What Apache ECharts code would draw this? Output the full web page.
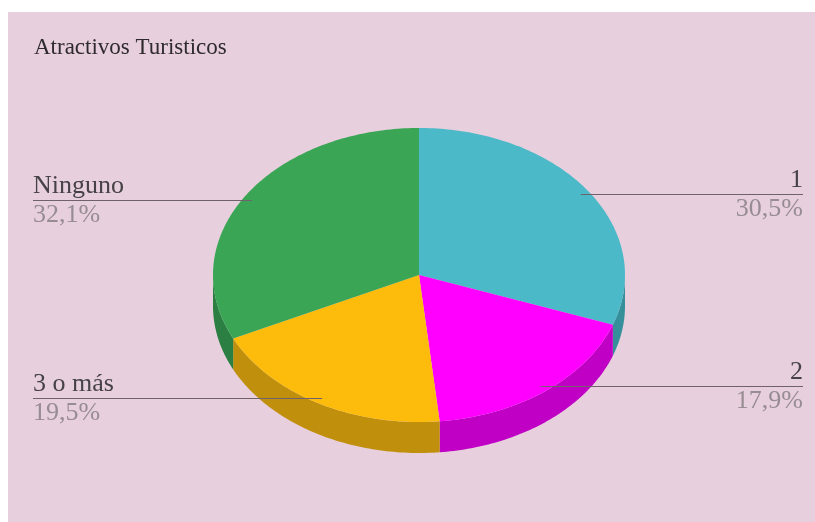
<!DOCTYPE html>
<html><head><meta charset="utf-8">
<script src="https://cdn.jsdelivr.net/npm/echarts@6/dist/echarts.min.js"></script>
<style>html,body{margin:0;padding:0;background:#fff}#c{width:815px;height:522px}</style>
</head><body><div id="c"></div>
<script>
const categories = ['1', '2', '3 o más', 'Ninguno'];
const values = [30.5, 17.9, 19.5, 32.1];
const chartTitle = 'Atractivos Turisticos';
const topColors = ['#4bb9c8', '#ff00ff', '#fdbc0c', '#3aa655'];
const sideColors = ['#36909c', '#c000c4', '#c0900c', '#2b7f42'];

const total = values.reduce((a, b) => a + b, 0);
const starts = [];
let acc = 0;
values.forEach(v => { starts.push(acc); acc += v; });

const CX = 419, CY = 275, RX = 206, RY = 147, DEPTH = 31, LEFT_X = 33, RIGHT_X = 803, ANCHOR = 0.96;
function pt(t, dy) { return [CX + RX * Math.sin(t), CY - RY * Math.cos(t) + (dy || 0)]; }
function arc(t1, t2, dy) {
  const n = Math.max(2, Math.ceil((t2 - t1) / (Math.PI / 180)));
  const out = [];
  for (let i = 0; i <= n; i++) out.push(pt(t1 + (t2 - t1) * i / n, dy));
  return out;
}
function fmtPct(v) { return (v / total * 100).toFixed(1).replace('.', ',') + '%'; }

function renderItem(params, api) {
  const i = params.dataIndex;
  const v = api.value(0);
  const t1 = starts[i] / total * 2 * Math.PI;
  const t2 = (starts[i] + v) / total * 2 * Math.PI;
  const children = [];
  const a = Math.max(t1, Math.PI / 2), b = Math.min(t2, 1.5 * Math.PI);
  if (b > a) {
    const topArc = arc(a, b, 0), botArc = arc(a, b, DEPTH).reverse();
    children.push({ type: 'polygon', z2: 1, shape: { points: topArc.concat(botArc) }, style: { fill: sideColors[i] } });
  }
  children.push({ type: 'polygon', z2: 5, shape: { points: [[CX, CY]].concat(arc(t1, t2, 0)) }, style: { fill: topColors[i] } });
  const m = (t1 + t2) / 2;
  const an = [CX + RX * ANCHOR * Math.sin(m), CY - RY * ANCHOR * Math.cos(m)];
  const right = Math.sin(m) >= 0;
  const ly = Math.round(an[1]) + 0.5;
  const endX = right ? RIGHT_X : LEFT_X;
  children.push({ type: 'line', z2: 10, shape: { x1: an[0], y1: ly, x2: endX, y2: ly }, style: { stroke: '#6f626b', lineWidth: 1.2 } });
  children.push({ type: 'text', z2: 10, style: { x: endX, y: ly - 1, text: categories[i], align: right ? 'right' : 'left', verticalAlign: 'bottom', fontFamily: 'Liberation Serif', fontSize: 26, fill: '#474247' } });
  children.push({ type: 'text', z2: 10, style: { x: endX, y: ly + 2, text: fmtPct(v), align: right ? 'right' : 'left', verticalAlign: 'top', fontFamily: 'Liberation Serif', fontSize: 26, fill: '#988c94' } });
  return { type: 'group', children };
}

const chart = echarts.init(document.getElementById('c'), null, { renderer: 'canvas' });
chart.setOption({
  backgroundColor: '#ffffff',
  animation: false,
  title: {
    text: chartTitle, left: 34, top: 36, padding: 0,
    textStyle: { fontFamily: 'Liberation Serif', fontSize: 23, fontWeight: 'normal', color: '#2e2a2e' }
  },
  graphic: [{ type: 'rect', z: -10, left: 8, top: 12, shape: { width: 807, height: 510 }, style: { fill: '#e7cfdd' } }],
  series: [{
    type: 'custom', coordinateSystem: 'none', renderItem: renderItem,
    data: values.map(v => [v])
  }]
});
</script></body></html>
